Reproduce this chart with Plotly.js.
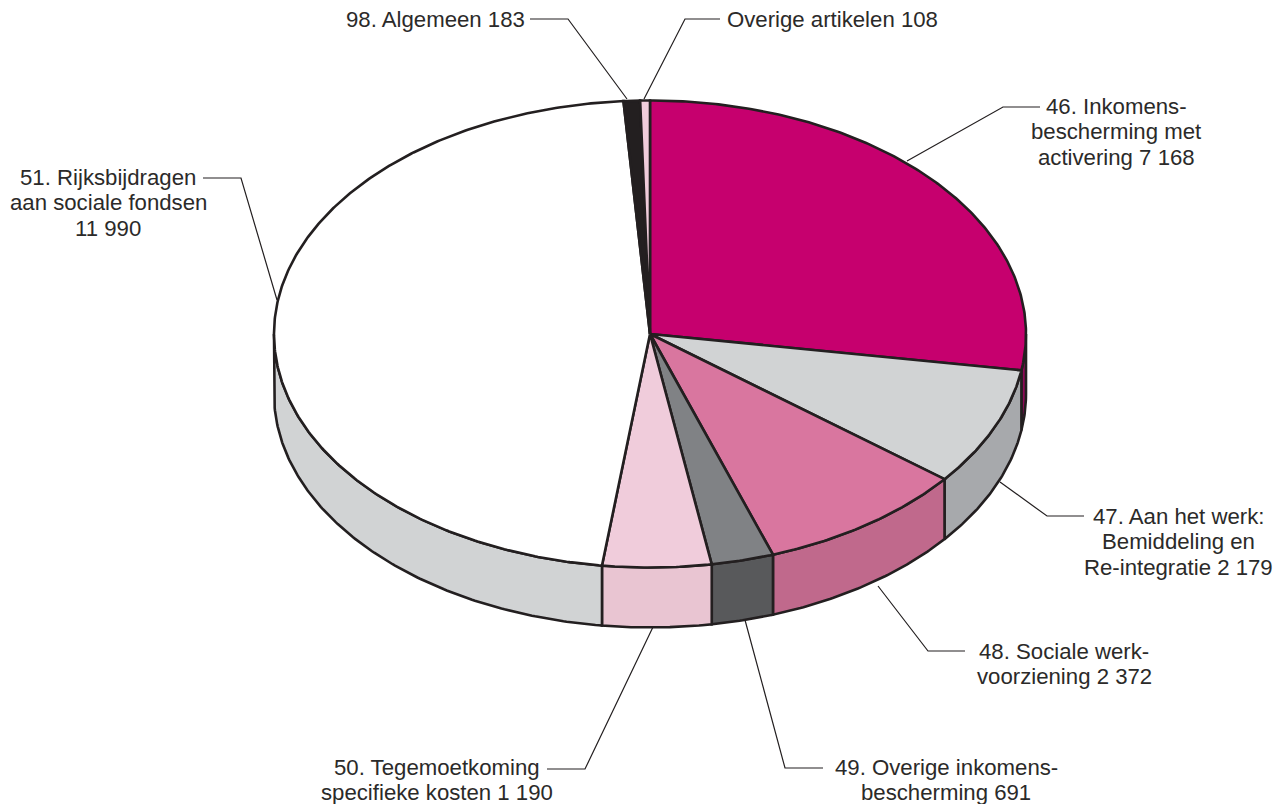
<!DOCTYPE html>
<html>
<head>
<meta charset="utf-8">
<script src="https://cdn.plot.ly/plotly-3.0.1.min.js"></script>
<style>html,body{margin:0;padding:0;background:#fff}#chart{width:1284px;height:804px}</style>
</head>
<body>
<div id="chart"></div>
<script>
// --- data ---
const articles = ["46. Inkomensbescherming met activering","47. Aan het werk: Bemiddeling en Re-integratie","48. Sociale werkvoorziening","49. Overige inkomensbescherming","50. Tegemoetkoming specifieke kosten","51. Rijksbijdragen aan sociale fondsen","98. Algemeen","Overige artikelen"];
const values = [7168, 2179, 2372, 691, 1190, 11990, 183, 108];
const labelLines = [
  ["46. Inkomens-","bescherming met","activering 7 168"],
  ["47. Aan het werk:","Bemiddeling en","Re-integratie 2 179"],
  ["48. Sociale werk-","voorziening 2 372"],
  ["49. Overige inkomens-","bescherming 691"],
  ["50. Tegemoetkoming","specifieke kosten 1 190"],
  ["51. Rijksbijdragen","aan sociale fondsen","11 990"],
  ["98. Algemeen 183"],
  ["Overige artikelen 108"]
];
// --- styles ---
const topColors  = ["#C6006E","#D1D3D4","#D9769F","#808285","#F0CCDB","#FFFFFF","#231F20","#F0CCDB"];
const wallColors = ["#8E0A57","#A7A9AC","#C0698C","#58595B","#E9C5D2","#D1D3D4","#231F20","#E9C5D2"];
const ink = "#231F20";
// --- layout geometry (page pixels) ---
const cx = 650, cy = 334, rx = 376, ry = 233.5, depth = 60, warp = 2.1, warpBias = 15;
const labelX = [1116, 1178, 1064, 946, 437, 108, 435, 832];
const labelFirstY = [106, 516, 651, 767, 767, 177, 19, 19];
const lineStep = 25.7;
const leaderX = [[1040,1003,907],[1084,1047,1000],[965,928,878],[823,785,745],[547,585,653],[203,241,277],[530,568,627],[720,685,644]];
const leaderY = [[107,107,161],[516,516,482],[651,651,586],[768,768,620],[769,769,627],[178,178,300],[19,19,99],[19,19,99]];

// slice angle (degrees clockwise from top), slightly foreshortened by the view
const view = a => { const c = (1 - Math.cos((a + warpBias) * Math.PI / 180)) / 2; return a - warp * c * c * c; };
const px = a => cx + rx * Math.sin(a * Math.PI / 180);
const py = a => cy - ry * Math.cos(a * Math.PI / 180);
const total = values.reduce((s, v) => s + v, 0);
let run = 0;
const bounds = values.map(v => { const from = run; run += v; return [view(from / total * 360), view(run / total * 360)]; });
const sweep = (from, to) => { const n = Math.max(2, Math.ceil(Math.abs(to - from) * 2)); return Array.from({length: n + 1}, (_, i) => from + (to - from) * i / n); };

const traces = [];
bounds.forEach(([from, to], i) => {
  const a = Math.max(from, 90), b = Math.min(to, 270);
  if (b <= a) return;
  const arc = sweep(a, b);
  const back = arc.slice().reverse();
  traces.push({type: "scatter", mode: "lines", name: articles[i] + " (zijkant)", hoverinfo: "skip", fill: "toself", fillcolor: wallColors[i],
    x: arc.map(px).concat(back.map(px), [px(a)]),
    y: arc.map(py).concat(back.map(t => py(t) + depth), [py(a)]),
    line: {color: ink, width: 2.6}});
});
bounds.forEach(([from, to], i) => {
  const arc = sweep(from, to);
  traces.push({type: "scatter", mode: "lines", name: articles[i], text: String(values[i]), hoverinfo: "name+text", fill: "toself", fillcolor: topColors[i],
    x: [cx].concat(arc.map(px), [cx]),
    y: [cy].concat(arc.map(py), [cy]),
    line: {color: ink, width: 2.6}});
});
leaderX.forEach((xs, i) => traces.push({type: "scatter", mode: "lines", hoverinfo: "skip", x: xs, y: leaderY[i], line: {color: ink, width: 1.2}}));

const annotations = labelLines.flatMap((lines, i) => lines.map((t, j) => ({text: t, x: labelX[i], y: labelFirstY[i] + j * lineStep, xref: "x", yref: "y", xanchor: "center", yanchor: "middle", align: "center", showarrow: false})));

Plotly.newPlot("chart", traces, {
  width: 1284, height: 804, showlegend: false,
  margin: {l: 0, r: 0, t: 0, b: 0},
  paper_bgcolor: "#fff", plot_bgcolor: "#fff",
  font: {family: "'Liberation Sans', sans-serif", size: 22.2, color: "#2B2A29"},
  xaxis: {range: [0, 1284], visible: false, fixedrange: true},
  yaxis: {range: [804, 0], visible: false, fixedrange: true},
  annotations
}, {displayModeBar: false});
</script>
</body>
</html>
